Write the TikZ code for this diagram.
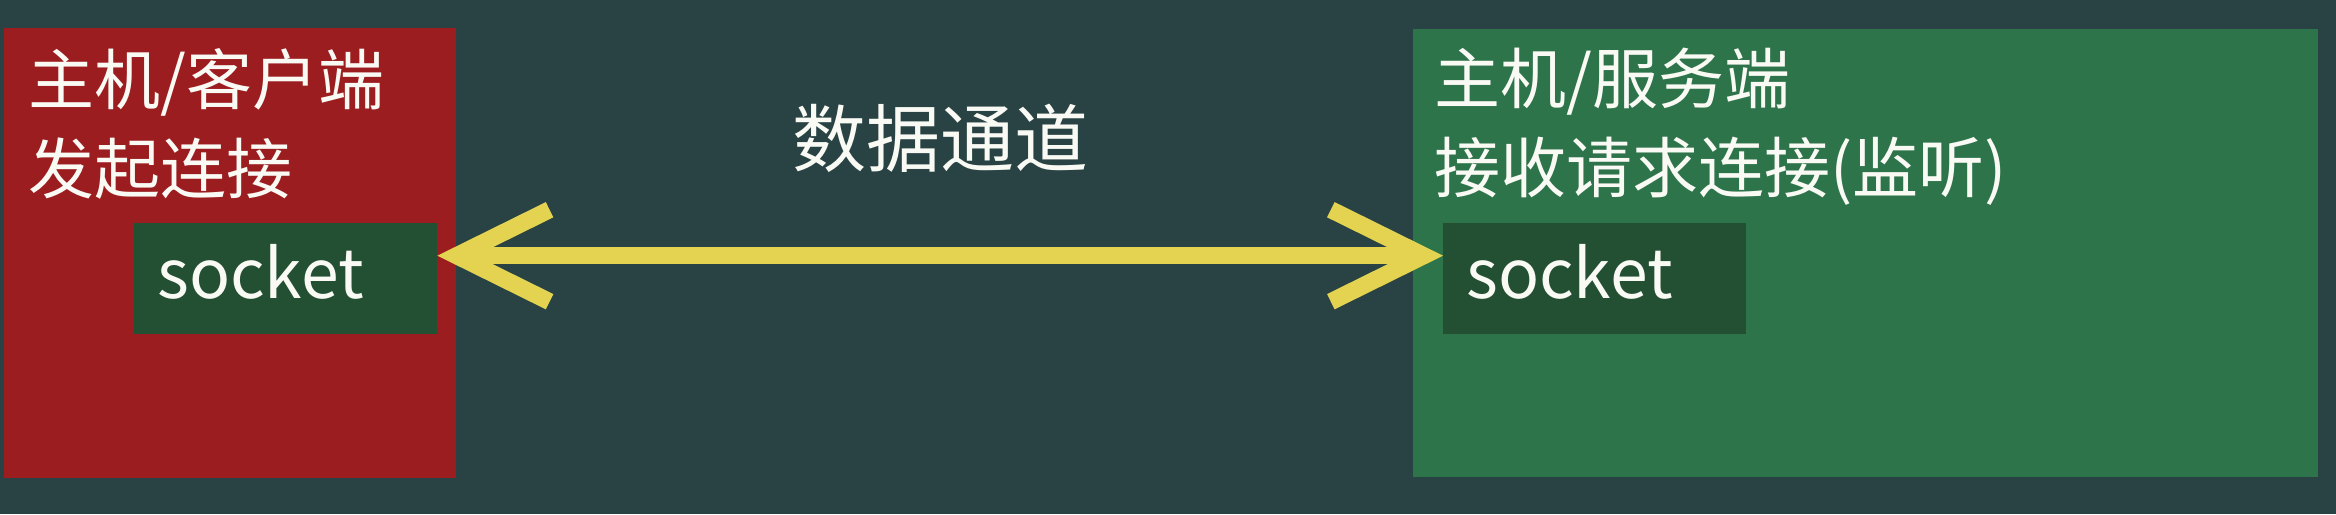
\documentclass[tikz,border=0pt]{standalone}
\usepackage{fontspec}
\setmainfont{Noto Sans CJK SC}
\usepackage{xcolor}
\usepackage{tikz}
\usetikzlibrary{arrows.meta}
\definecolor{boardteal}{RGB}{41,67,68}
\definecolor{clientred}{RGB}{156,29,31}
\definecolor{servergreen}{RGB}{46,116,75}
\definecolor{socketgreen}{RGB}{35,79,51}
\definecolor{channelyellow}{RGB}{227,211,80}
\definecolor{chalkwhite}{RGB}{250,250,245}

\begin{document}
\begin{tikzpicture}[
    x=1pt, y=-1pt,
    host/.style={draw=none, anchor=north west, inner sep=0pt},
    hosttext/.style={anchor=north west, inner sep=0pt, align=left, text=chalkwhite, font=\fontsize{66}{89}\selectfont},
    sock/.style={fill=socketgreen, anchor=north west, inner xsep=23pt, inner ysep=0pt, text width=257pt, text depth=14pt, minimum height=111pt, text=chalkwhite, font=\fontsize{68}{80}\selectfont},
    chan/.style={draw=channelyellow, line width=17pt, {Straight Barb[sharp,length=93pt,width=92pt]}-{Straight Barb[sharp,length=93pt,width=92pt]}}
]

\fill[boardteal] (0,0) rectangle (2336,514);
\useasboundingbox (0,0) rectangle (2336,514);

\node[host, fill=clientred, minimum width=452pt, minimum height=450pt] (client) at (4,28) {};
\node[host, fill=servergreen, minimum width=905pt, minimum height=448pt] (server) at (1413,29) {};

\node[hosttext] (clientlbl) at (28,48) {主机/客户端\\发起连接};
\node[hosttext] (serverlbl) at (1434,48) {主机/服务端\\接收请求连接(监听)};

\node[sock] (csock) at (134,223) {socket};
\node[sock] (ssock) at (1443,223) {socket};

\node[text=chalkwhite, font=\fontsize{74}{80}\selectfont] (chanlbl) at (940,138) {数据通道};

\draw[chan] ([yshift=23pt]csock.east) -- ([yshift=23pt]ssock.west);

\end{tikzpicture}
\end{document}
